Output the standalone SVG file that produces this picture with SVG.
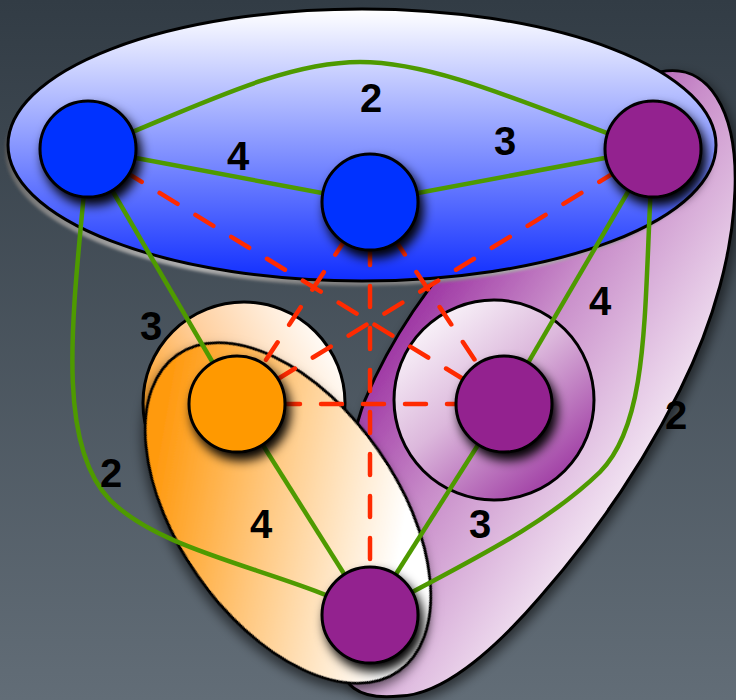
<svg xmlns="http://www.w3.org/2000/svg" width="736" height="700" viewBox="0 0 736 700">
  <defs>
    <linearGradient id="bg" x1="0" y1="0" x2="0" y2="1">
      <stop offset="0" stop-color="#323c45"/>
      <stop offset="1" stop-color="#626d77"/>
    </linearGradient>
    <linearGradient id="blueGrad" x1="0" y1="10" x2="0" y2="282" gradientUnits="userSpaceOnUse">
      <stop offset="0" stop-color="#ffffff"/>
      <stop offset="1" stop-color="#0f2dff"/>
    </linearGradient>
    <linearGradient id="shadowGrad" x1="0" y1="150" x2="0" y2="290" gradientUnits="userSpaceOnUse">
      <stop offset="0" stop-color="#555555"/>
      <stop offset="0.85" stop-color="#b0b0b0"/>
      <stop offset="1" stop-color="#6a6a6a"/>
    </linearGradient>
    <linearGradient id="pinkGrad" x1="350" y1="350" x2="650" y2="550" gradientUnits="userSpaceOnUse">
      <stop offset="0" stop-color="#93209a"/>
      <stop offset="0.4" stop-color="#c88cc9"/>
      <stop offset="1" stop-color="#ffffff"/>
    </linearGradient>
    <linearGradient id="ringGrad" x1="410" y1="310" x2="565" y2="500" gradientUnits="userSpaceOnUse">
      <stop offset="0" stop-color="#ffffff"/>
      <stop offset="0.45" stop-color="#dcb8dc"/>
      <stop offset="1" stop-color="#962a9b"/>
    </linearGradient>
    <linearGradient id="orangeFront" x1="200" y1="620" x2="380" y2="440" gradientUnits="userSpaceOnUse">
      <stop offset="0" stop-color="#ff9a10"/>
      <stop offset="0.45" stop-color="#ffc880"/>
      <stop offset="1" stop-color="#ffffff"/>
    </linearGradient>
    <linearGradient id="orangeBack" x1="150" y1="430" x2="330" y2="330" gradientUnits="userSpaceOnUse">
      <stop offset="0" stop-color="#ffa020"/>
      <stop offset="0.45" stop-color="#ffd0a0"/>
      <stop offset="1" stop-color="#ffffff"/>
    </linearGradient>
    <filter id="nodeShadow" x="-50%" y="-50%" width="200%" height="200%">
      <feDropShadow dx="4" dy="7" stdDeviation="5.5" flood-color="#000000" flood-opacity="1"/>
    </filter>
    <filter id="groupShadow" x="-20%" y="-20%" width="140%" height="140%">
      <feDropShadow dx="4" dy="5" stdDeviation="6" flood-color="#000000" flood-opacity="0.55"/>
    </filter>
    <filter id="soft" x="-10%" y="-10%" width="120%" height="120%">
      <feGaussianBlur stdDeviation="1.5"/>
    </filter>
  </defs>
  <style>
    .group { stroke: #000000; stroke-width: 3; }
    .shadowed { filter: url(#groupShadow); }
    .node { stroke: #000000; stroke-width: 3; filter: url(#nodeShadow); }
    .blue { fill: #0033ff; }
    .purple { fill: #93208f; }
    .orange { fill: #ff9900; }
    .green { fill: none; stroke: #4e9a00; stroke-width: 4.5; }
    .red { fill: none; stroke: #ff2a00; stroke-width: 4.5; stroke-dasharray: 21 21; stroke-linecap: round; }
    .label { font-family: "Liberation Sans", Arial, sans-serif; font-weight: bold; font-size: 40px; fill: #000000; text-anchor: middle; }
  </style>

  <rect x="0" y="0" width="736" height="700" fill="url(#bg)"/>

  <g id="groups">
    <path id="group-pink" class="group shadowed" fill="url(#pinkGrad)" d="M 660,72 C 708,62 738,110 735,190 C 733,250 715,320 680,390 C 640,470 590,540 540,597 C 490,655 440,695 400,696 C 362,700 336,690 338,640 C 340,540 345,450 365,400 C 390,340 430,280 480,230 C 540,170 605,88 660,72 Z"/>
    <ellipse id="group-top-shadow" cx="357" cy="151" rx="352" ry="135" fill="url(#shadowGrad)" filter="url(#soft)"/>
    <ellipse id="group-top" class="group" cx="362" cy="145" rx="354" ry="136" fill="url(#blueGrad)"/>
    <circle id="group-ring" class="group" cx="494" cy="400" r="100" fill="url(#ringGrad)"/>
    <circle id="group-orange-back" class="group" cx="244" cy="403" r="101" fill="url(#orangeBack)"/>
    <ellipse id="group-orange-front" class="group shadowed" cx="288" cy="513" rx="193" ry="110" transform="rotate(55 288 513)" fill="url(#orangeFront)"/>
  </g>

  <g id="connectors">
    <line class="green" x1="88" y1="149" x2="370" y2="202"/>
    <line class="green" x1="370" y1="202" x2="653" y2="149"/>
    <path class="green" d="M 88,150 C 190,110 280,62 360,62 C 440,62 540,110 653,150"/>
    <line class="green" x1="88" y1="149" x2="237" y2="404"/>
    <path class="green" d="M 88,149 C 75,300 52,440 110,500 C 165,555 285,570 370,615"/>
    <line class="green" x1="653" y1="149" x2="504" y2="404"/>
    <path class="green" d="M 653,149 C 643,300 652,420 600,472 C 540,530 460,565 370,615"/>
    <line class="green" x1="237" y1="404" x2="370" y2="615"/>
    <line class="green" x1="504" y1="404" x2="370" y2="615"/>

    <line class="red" x1="88" y1="149" x2="504" y2="404"/>
    <line class="red" x1="653" y1="149" x2="237" y2="404"/>
    <line class="red" x1="370" y1="202" x2="370" y2="615"/>
    <line class="red" x1="370" y1="202" x2="237" y2="404"/>
    <line class="red" x1="370" y1="202" x2="504" y2="404"/>
    <line class="red" x1="237" y1="404" x2="504" y2="404"/>
  </g>

  <g id="node-a"><circle class="node blue" cx="88" cy="149" r="48"/></g>
  <g id="node-b"><circle class="node blue" cx="370" cy="202" r="48"/></g>
  <g id="node-c"><circle class="node purple" cx="653" cy="149" r="48"/></g>
  <g id="node-d"><circle class="node orange" cx="237" cy="404" r="48"/></g>
  <g id="node-e"><circle class="node purple" cx="504" cy="404" r="48"/></g>
  <g id="node-f"><circle class="node purple" cx="370" cy="615" r="48"/></g>

  <g id="labels">
    <text class="label" x="371" y="112">2</text>
    <text class="label" x="238" y="170">4</text>
    <text class="label" x="505" y="155">3</text>
    <text class="label" x="151" y="340">3</text>
    <text class="label" x="111" y="487">2</text>
    <text class="label" x="261" y="538">4</text>
    <text class="label" x="600" y="315">4</text>
    <text class="label" x="676" y="429">2</text>
    <text class="label" x="480" y="538">3</text>
  </g>
</svg>
